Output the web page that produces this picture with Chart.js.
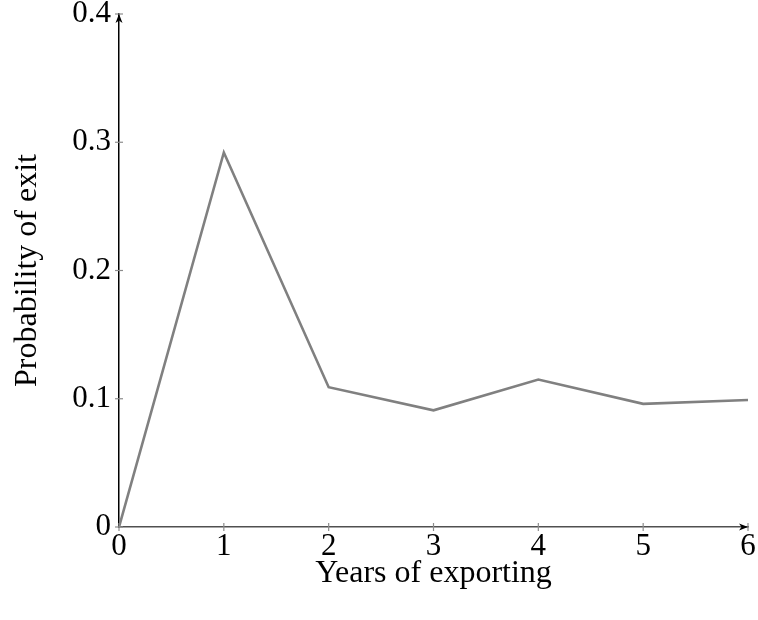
<!DOCTYPE html>
<html lang="en">
<head>
    <meta charset="UTF-8">
    <title>Probability of exit</title>
    <script src="https://cdn.jsdelivr.net/npm/chart.js"></script>
    <style>
        body { margin: 0; background: #fff; }
    </style>
</head>
<body>
    <canvas id="exitChart" width="758" height="620"></canvas>
    <script>
        // Data
        const years = [0, 1, 2, 3, 4, 5, 6];
        const exitProb = [0, 0.292, 0.109, 0.091, 0.115, 0.096, 0.099];
        const xTicks = [0, 1, 2, 3, 4, 5, 6];
        const yTicks = [0, 0.1, 0.2, 0.3, 0.4];

        const serif = '"Liberation Serif", "DejaVu Serif", serif';

        // tick marks crossing the axes + arrow heads, like pgfplots
        const axisDecor = {
            id: 'axisDecor',
            afterDatasetsDraw(chart) {
                const ctx = chart.ctx;
                const xs = chart.scales.x, ys = chart.scales.y;
                const x0 = xs.getPixelForValue(0), y0 = ys.getPixelForValue(0);
                const xEnd = xs.getPixelForValue(6), yEnd = ys.getPixelForValue(0.4);
                ctx.save();
                ctx.strokeStyle = '#8c8c8c';
                ctx.lineWidth = 1.2;
                xTicks.forEach(v => {
                    const px = xs.getPixelForValue(v);
                    ctx.beginPath();
                    ctx.moveTo(px, y0 - 4);
                    ctx.lineTo(px, y0 + 4);
                    ctx.stroke();
                });
                yTicks.forEach(v => {
                    const py = ys.getPixelForValue(v);
                    ctx.beginPath();
                    ctx.moveTo(x0 - 4, py);
                    ctx.lineTo(x0 + 4, py);
                    ctx.stroke();
                });
                // arrows
                ctx.fillStyle = '#000';
                ctx.beginPath();
                ctx.moveTo(xEnd, y0);
                ctx.lineTo(xEnd - 9, y0 - 3.5);
                ctx.lineTo(xEnd - 6.5, y0);
                ctx.lineTo(xEnd - 9, y0 + 3.5);
                ctx.closePath();
                ctx.fill();
                ctx.beginPath();
                ctx.moveTo(x0, yEnd);
                ctx.lineTo(x0 - 3.5, yEnd + 9);
                ctx.lineTo(x0, yEnd + 6.5);
                ctx.lineTo(x0 + 3.5, yEnd + 9);
                ctx.closePath();
                ctx.fill();
                ctx.restore();
            }
        };

        const config = {
            type: 'line',
            data: {
                datasets: [{
                    label: 'Probability of exit',
                    data: years.map((x, i) => ({x: x, y: exitProb[i]})),
                    borderColor: '#808080',
                    borderWidth: 2.6,
                    pointRadius: 0,
                    tension: 0,
                    fill: false
                }]
            },
            options: {
                responsive: false,
                animation: false,
                layout: { padding: { top: 14, right: 10, left: 0, bottom: 27 } },
                plugins: {
                    legend: { display: false },
                    tooltip: { enabled: false }
                },
                scales: {
                    x: {
                        type: 'linear',
                        min: 0,
                        max: 6,
                        afterFit(scale) {
                            scale.height = 66;
                            scale.paddingLeft = 0;
                            scale.paddingRight = 0;
                        },
                        afterBuildTicks(scale) { scale.ticks = xTicks.map(v => ({value: v})); },
                        grid: { display: false, drawTicks: false },
                        border: { color: '#505050', width: 1.5 },
                        ticks: {
                            color: '#000',
                            padding: 1,
                            maxRotation: 0,
                            font: { family: serif, size: 31 }
                        },
                        title: {
                            display: true,
                            text: 'Years of exporting',
                            color: '#000',
                            padding: { top: 0, bottom: 0 },
                            font: { family: serif, size: 32 }
                        }
                    },
                    y: {
                        type: 'linear',
                        min: 0,
                        max: 0.4,
                        afterFit(scale) {
                            scale.width = 119;
                            scale.paddingTop = 0;
                            scale.paddingBottom = 0;
                        },
                        afterBuildTicks(scale) { scale.ticks = yTicks.map(v => ({value: v})); },
                        grid: { display: false, drawTicks: false },
                        border: { color: '#000', width: 1.5 },
                        ticks: {
                            color: '#000',
                            padding: 8,
                            callback: v => String(Math.round(v * 10) / 10),
                            font: { family: serif, size: 31 }
                        },
                        title: {
                            display: true,
                            text: 'Probability of exit',
                            color: '#000',
                            padding: { top: 8, bottom: 0 },
                            font: { family: serif, size: 32 }
                        }
                    }
                }
            },
            plugins: [axisDecor]
        };

        const myChart = new Chart(document.getElementById('exitChart'), config);
    </script>
</body>
</html>
